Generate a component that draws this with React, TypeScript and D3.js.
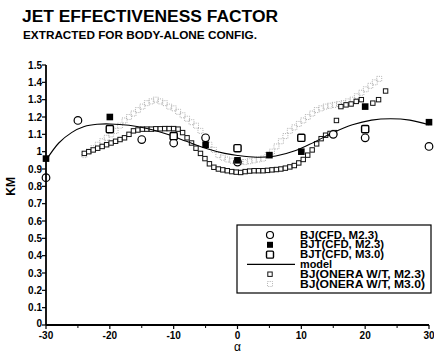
import React from "react";
import * as d3 from "d3";

const TITLE = "JET EFFECTIVENESS FACTOR";
const SUBTITLE = "EXTRACTED FOR BODY-ALONE CONFIG.";
const X_LABEL = "α";
const Y_LABEL = "KM";
const X_TICKS = [-30, -20, -10, 0, 10, 20, 30];
const X_MINOR = [-25, -15, -5, 5, 15, 25];
const Y_TICKS = [0, 0.1, 0.2, 0.3, 0.4, 0.5, 0.6, 0.7, 0.8, 0.9, 1, 1.1, 1.2, 1.3, 1.4, 1.5];

const LEGEND = [
  "BJ(CFD, M2.3)",
  "BJT(CFD, M2.3)",
  "BJT(CFD, M3.0)",
  "model",
  "BJ(ONERA W/T, M2.3)",
  "BJ(ONERA W/T, M3.0)",
];
const LEGEND_WIDTHS = [78, 84, 84, 32, 125, 125];

// BJ(CFD, M2.3) - open circles
const bjCfd23: [number, number][] = [
  [-30, 0.85], [-25, 1.18], [-15, 1.07], [-10, 1.05], [-5, 1.08], [0, 0.94],
  [15, 1.1], [20, 1.08], [30, 1.03],
];
// BJT(CFD, M2.3) - filled squares
const bjtCfd23: [number, number][] = [
  [-30, 0.96], [-20, 1.2], [-5, 1.04], [0, 0.95], [5, 0.98], [10, 1.0],
  [20, 1.26], [30, 1.17],
];
// BJT(CFD, M3.0) - open rounded squares
const bjtCfd30: [number, number][] = [
  [-20, 1.13], [-10, 1.09], [0, 1.02], [10, 1.08], [20, 1.13],
];
// model curve
const model: [number, number][] = [
  [-30, 0.95], [-28, 1.05], [-26, 1.11], [-24, 1.145], [-22, 1.158], [-20, 1.16],
  [-17, 1.152], [-14, 1.132], [-11, 1.1], [-8, 1.06], [-5, 1.02], [-2, 0.99],
  [0, 0.978], [3, 0.968], [6, 0.975], [9, 1.005], [12, 1.055], [15, 1.11],
  [18, 1.155], [21, 1.182], [24, 1.19], [27, 1.182], [30, 1.155],
];
// BJ(ONERA W/T, M2.3) - small open squares
const onera23: [number, number][] = [
  [-24, 0.99], [-23.3, 1.0], [-22.6, 1.01], [-21.9, 1.02], [-21.2, 1.03], [-20.5, 1.04],
  [-19.8, 1.05], [-19.1, 1.06], [-18.4, 1.07], [-17.7, 1.08], [-17, 1.1], [-16.3, 1.12],
  [-15.6, 1.125], [-14.9, 1.13], [-14.2, 1.13], [-13.5, 1.13], [-12.8, 1.132], [-12.1, 1.132],
  [-11.4, 1.133], [-10.7, 1.133], [-10, 1.133], [-9.3, 1.13], [-8.6, 1.11], [-7.9, 1.08],
  [-7.2, 1.05], [-6.5, 1.02], [-5.8, 0.99], [-5.1, 0.96], [-4.4, 0.93], [-3.7, 0.91],
  [-3, 0.9], [-2.3, 0.895], [-1.6, 0.89], [-0.9, 0.885], [-0.2, 0.882], [0.5, 0.88],
  [1.2, 0.885], [1.9, 0.888], [2.6, 0.89], [3.3, 0.89], [4, 0.89], [4.7, 0.892],
  [5.4, 0.895], [6.1, 0.897], [6.8, 0.9], [7.5, 0.905], [8.2, 0.912], [8.9, 0.92],
  [9.6, 0.935], [10.3, 0.955], [11, 0.98], [11.7, 1.01], [12.4, 1.045], [13.1, 1.075],
  [13.8, 1.095], [14.5, 1.105], [15.2, 1.11], [15.5, 1.18], [16.2, 1.26], [17, 1.27],
  [17.8, 1.275], [18.6, 1.29], [19.4, 1.3], [21.2, 1.28], [22.1, 1.3], [23.2, 1.35],
];
// BJ(ONERA W/T, M3.0) - dotted grey markers
const onera30: [number, number][] = [
  [-24, 0.98], [-23.3, 1.0], [-22.6, 1.02], [-21.9, 1.04], [-21.2, 1.06], [-20.5, 1.08],
  [-19.8, 1.1], [-19.1, 1.12], [-18.4, 1.15], [-17.7, 1.18], [-17, 1.2], [-16.3, 1.22],
  [-15.6, 1.24], [-14.9, 1.26], [-14.2, 1.28], [-13.5, 1.29], [-12.8, 1.3], [-12.1, 1.29],
  [-11.4, 1.28], [-10.7, 1.26], [-10, 1.25], [-9.3, 1.23], [-8.6, 1.21], [-7.9, 1.19],
  [-7.2, 1.17], [-6.5, 1.15], [-5.8, 1.12], [-5.1, 1.08], [-4.4, 1.04], [-3.7, 1.01],
  [-3, 0.98], [-2.3, 0.965], [-1.6, 0.955], [-0.9, 0.948], [-0.2, 0.944], [0.5, 0.94],
  [1.2, 0.94], [1.9, 0.945], [2.6, 0.95], [3.3, 0.955], [4, 0.96], [4.7, 0.98],
  [5.4, 1.0], [6.1, 1.03], [6.8, 1.06], [7.5, 1.09], [8.2, 1.12], [8.9, 1.14],
  [9.6, 1.16], [10.3, 1.18], [11, 1.2], [11.7, 1.22], [12.4, 1.24], [13.1, 1.25],
  [13.8, 1.26], [14.5, 1.265], [15.2, 1.27], [15.9, 1.275], [16.6, 1.28], [17.3, 1.29],
  [18, 1.3], [18.7, 1.32], [19.4, 1.34], [20.1, 1.36], [20.8, 1.38], [21.5, 1.4], [22.2, 1.42],
];

const FONT = "'Liberation Sans', Arial, Helvetica, sans-serif";

export default function App() {
  const W = 434;
  const H = 353;
  const x = d3.scaleLinear().domain([-30, 30]).range([46, 429]);
  const y = d3.scaleLinear().domain([0, 1.5]).range([325, 65]);
  const line = d3
    .line<[number, number]>()
    .x((d) => x(d[0]))
    .y((d) => y(d[1]))
    .curve(d3.curveCatmullRom.alpha(0.5));

  const fmt = (v: number) => String(+v.toFixed(1));

  const lx = 237, ly = 225, lw = 194, lh = 68;
  const rowY = (i: number) => ly + 10 + i * 9.8;
  const mx = 270;

  return (
    <svg width={W} height={H} style={{ position: "absolute", left: 0, top: 0, background: "#fff" }}>
      <rect x={0} y={0} width={W} height={H} fill="#fff" />
      <text x={22} y={22} fontFamily={FONT} fontWeight="bold" fontSize={16} textLength={256} lengthAdjust="spacingAndGlyphs">
        {TITLE}
      </text>
      <text x={23} y={39} fontFamily={FONT} fontWeight="bold" fontSize={10.5} textLength={234} lengthAdjust="spacingAndGlyphs">
        {SUBTITLE}
      </text>

      {/* ONERA M3.0 dotted markers */}
      <g>
        {onera30.map((d, i) => (
          <rect key={"o30" + i} x={x(d[0]) - 2.5} y={y(d[1]) - 2.5} width={5} height={5} fill="none"
            stroke="#a8a8a8" strokeWidth={0.9} strokeDasharray="1,1.2" />
        ))}
      </g>
      {/* ONERA M2.3 small squares */}
      <g>
        {onera23.map((d, i) => (
          <rect key={"o23" + i} x={x(d[0]) - 2.2} y={y(d[1]) - 2.2} width={4.4} height={4.4} fill="#fff"
            stroke="#111" strokeWidth={1} />
        ))}
      </g>
      {/* model */}
      <path d={line(model) || ""} fill="none" stroke="#000" strokeWidth={1.1} />
      {/* BJ CFD M2.3 circles */}
      <g>
        {bjCfd23.map((d, i) => (
          <circle key={"c" + i} cx={x(d[0])} cy={y(d[1])} r={3.8} fill="#fff" stroke="#000" strokeWidth={1.2} />
        ))}
      </g>
      {/* BJT CFD M3.0 open rounded squares */}
      <g>
        {bjtCfd30.map((d, i) => (
          <rect key={"s30" + i} x={x(d[0]) - 3.6} y={y(d[1]) - 3.6} width={7.2} height={7.2} rx={1.2} fill="#fff"
            stroke="#000" strokeWidth={1.4} />
        ))}
      </g>
      {/* BJT CFD M2.3 filled squares */}
      <g>
        {bjtCfd23.map((d, i) => (
          <rect key={"f" + i} x={x(d[0]) - 3.3} y={y(d[1]) - 3.3} width={6.6} height={6.6} fill="#000" />
        ))}
      </g>

      {/* axes */}
      <line x1={x(-30)} x2={x(-30)} y1={y(1.5)} y2={y(0)} stroke="#000" strokeWidth={1.8} />
      <line x1={x(-30)} x2={x(30)} y1={y(0)} y2={y(0)} stroke="#000" strokeWidth={1.8} />
      {Y_TICKS.map((t) => (
        <g key={"yt" + t}>
          <line x1={x(-30) - 4} x2={x(-30)} y1={y(t)} y2={y(t)} stroke="#000" strokeWidth={1.2} />
          <text x={x(-30) - 4} y={t === 0 ? y(t) + 2 : y(t) + 3.5} textAnchor="end" fontFamily={FONT} fontWeight="bold" fontSize={10}>
            {fmt(t)}
          </text>
        </g>
      ))}
      {X_TICKS.map((t) => (
        <g key={"xt" + t}>
          <line x1={x(t)} x2={x(t)} y1={y(0)} y2={y(0) + 4} stroke="#000" strokeWidth={1.2} />
          <text x={x(t)} y={y(0) + 14} textAnchor="middle" fontFamily={FONT} fontWeight="bold" fontSize={10}>
            {fmt(t)}
          </text>
        </g>
      ))}
      {X_MINOR.map((t) => (
        <line key={"xm" + t} x1={x(t)} x2={x(t)} y1={y(0)} y2={y(0) + 3} stroke="#000" strokeWidth={1} />
      ))}
      <text x={x(0)} y={351} textAnchor="middle" fontFamily={FONT} fontSize={12}>
        {X_LABEL}
      </text>
      <text transform={`translate(15,${y(0.8)}) rotate(-90)`} textAnchor="middle" fontFamily={FONT} fontWeight="bold" fontSize={12}>
        {Y_LABEL}
      </text>

      {/* legend */}
      <rect x={lx} y={ly} width={lw} height={lh} fill="#fff" stroke="#000" strokeWidth={1.2} />
      <circle cx={mx} cy={rowY(0)} r={3.5} fill="#fff" stroke="#000" strokeWidth={1.2} />
      <rect x={mx - 3} y={rowY(1) - 3} width={6} height={6} fill="#000" />
      <rect x={mx - 3.5} y={rowY(2) - 3.5} width={7} height={7} rx={1.2} fill="#fff" stroke="#000" strokeWidth={1.4} />
      <line x1={247} x2={295} y1={rowY(3)} y2={rowY(3)} stroke="#000" strokeWidth={1.1} />
      <rect x={mx - 2.2} y={rowY(4) - 2.2} width={4.4} height={4.4} fill="#fff" stroke="#111" strokeWidth={1} />
      <rect x={mx - 2.5} y={rowY(5) - 2.5} width={5} height={5} fill="none" stroke="#a8a8a8" strokeWidth={0.9} strokeDasharray="1,1.2" />
      {LEGEND.map((t, i) => (
        <text key={"lg" + i} x={300} y={rowY(i) + 3.5} fontFamily={FONT} fontWeight="bold" fontSize={10}
          textLength={LEGEND_WIDTHS[i]} lengthAdjust="spacingAndGlyphs">
          {t}
        </text>
      ))}
    </svg>
  );
}
